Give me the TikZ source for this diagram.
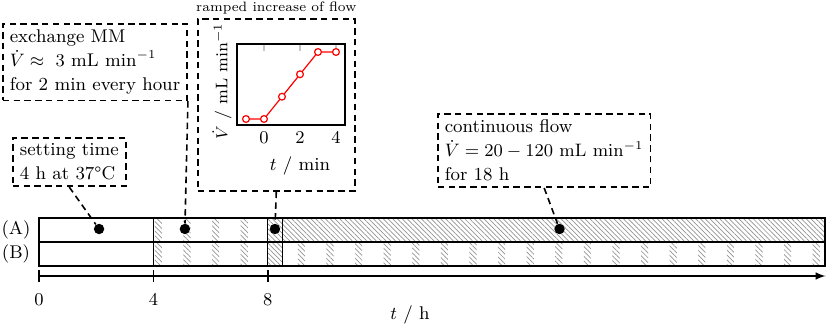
\documentclass[tikz,border=0pt]{standalone}
\usepackage{amsmath,amssymb}
\usetikzlibrary{patterns.meta,positioning}

\tikzset{
  note/.style={draw,dash pattern=on 3.2pt off 2.2pt,line width=0.8pt,align=left,
    inner xsep=3.5pt,inner ysep=3pt,anchor=north west},
  link/.style={dash pattern=on 3.2pt off 2.2pt,line width=0.8pt},
  probe/.style={circle,fill=black,inner sep=0pt,minimum size=5.2pt},
  hatch/.style={pattern={Lines[angle=-45,distance=1.7pt,line width=0.35pt]},pattern color=gray!85},
  ramp/.style={red,line width=0.6pt},
}

\begin{document}
\begin{tikzpicture}[x=0.5pt,y=-0.5pt,font=\fontsize{9.2pt}{12pt}\selectfont]
\useasboundingbox (0,0) rectangle (829,331);

% boxes with notes
\node[note] (setting) at (12,137) {setting time\\4 h at 37\textdegree C};
\node[note] (exchange) at (2,23) {exchange MM\\$\dot V \approx\ 3$ mL min$^{-1}$\\for 2 min every hour};
\node[note,minimum width=78.5pt,minimum height=86pt,
  label={[font=\fontsize{6.8pt}{8pt}\selectfont,inner sep=1.5pt]above:ramped increase of flow}] (rampbox) at (197,18) {};
\node[note] (flow) at (437,113) {continuous flow\\$\dot V = 20 - 120\ \mathrm{mL\ min^{-1}}$\\for 18 h};

% small inset plot
\draw[line width=0.8pt] (237,44) rectangle (345,125);
\foreach \t in {0,2,4} {
  \draw[gray!45,line width=0.8pt] ({264+18*\t},45) -- ++(0,6);
  \node (tick\t) at ({264+18*\t},138) {$\t$};
}
\draw[ramp] (246,119) -- (264,119) -- (282,96.7) -- (300,74.3) -- (318,52) -- (336,52);
\foreach \p in {(246,119),(264,119),(282,96.7),(300,74.3),(318,52),(336,52)}
  \draw[ramp,fill=white] \p circle[radius=1.7pt];
\node (tlab) at (300,166) {$t$ / min};
\node[rotate=90,font=\fontsize{8.4pt}{10pt}\selectfont] (vlab) at (222,81) {$\dot V$ / mL min$^{-1}$};

% row labels
\node (rowA) at (16,230) {(A)};
\node (rowB) at (16,254) {(B)};

\begin{scope}[shift={(39,0)},x=14.3pt]
% hatched parts
\foreach \h in {4,...,7}
  \fill[hatch] (\h+0.05,218) rectangle (\h+0.3,266);
\foreach \h in {9,...,27}
  \fill[hatch] (\h+0.05,242) rectangle (\h+0.3,266);
\fill[hatch] (8,218) rectangle (8.5,266);
\fill[hatch] (8.5,218) rectangle (27.48,242);
% bars
\draw[line width=0.6pt] (0,218) rectangle (27.48,266);
\draw[line width=0.6pt] (0,242) -- (27.48,242);
\foreach \h in {4,8,8.5}
  \draw[line width=0.6pt] (\h,218) -- (\h,266);
% time axis
\draw[-latex,line width=0.7pt] (0,276) -- (27.5,276);
\foreach \h in {0,4,8} {
  \draw[line width=0.7pt] (\h,270) -- (\h,282);
  \node (hour\h) at (\h,300) {$\h$};
}
\node (hlab) at (12.97,315) {$t$ / h};
% probes
\node[probe] (d1) at (2.1,229) {};
\node[probe] (d2) at (5.1,229) {};
\node[probe] (d3) at (8.25,229) {};
\node[probe] (d4) at (18.2,229) {};
\end{scope}

% connectors
\draw[link] (setting.south) -- (d1);
\draw[link] (exchange.south east) -- (d2);
\draw[link] (rampbox.south) -- (d3);
\draw[link] (flow.south) -- (d4);
\end{tikzpicture}
\end{document}
